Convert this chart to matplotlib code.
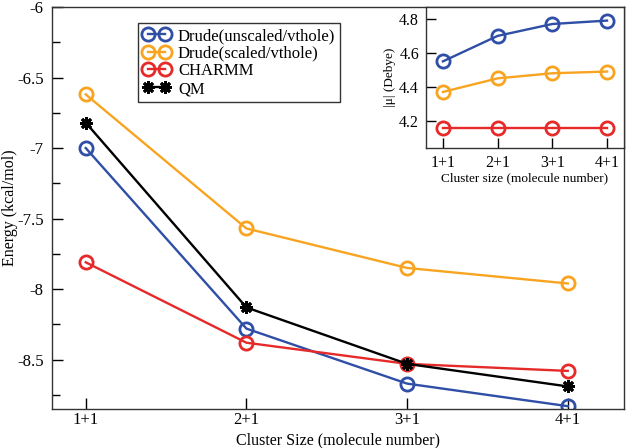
import matplotlib
matplotlib.use("Agg")
import matplotlib.pyplot as plt

plt.rcParams["font.family"] = ["Liberation Serif", "DejaVu Serif"]
plt.rcParams["mathtext.fontset"] = "stix"

# cluster sizes
clusters = ["1+1", "2+1", "3+1", "4+1"]
xpos = [1, 2, 3, 4]

# interaction energies (kcal/mol)
e_drude_unscaled = [-7.00, -8.28, -8.67, -8.83]
e_drude_scaled = [-6.62, -7.57, -7.85, -7.96]
e_charmm = [-7.81, -8.38, -8.53, -8.58]
e_qm = [-6.82, -8.13, -8.53, -8.69]

# dipole moments (Debye)
mu_drude_unscaled = [4.55, 4.70, 4.77, 4.79]
mu_drude_scaled = [4.37, 4.45, 4.48, 4.49]
mu_charmm = [4.16, 4.16, 4.16, 4.16]

c_blue = "#2f4ea6"
c_orange = "#f8a421"
c_red = "#e62a2a"

W, H = 626, 448
fig = plt.figure(figsize=(W / 100, H / 100), dpi=100)

ax_w, ax_h = 624 - 52, 409 - 7
ax = fig.add_axes([52 / W, 1 - 409 / H, ax_w / W, ax_h / H])
circ = dict(marker="o", markersize=9.5, markerfacecolor="none",
            markeredgewidth=2.0, linewidth=1.7)
ax.plot(xpos, e_drude_unscaled, color=c_blue, markeredgecolor=c_blue,
        label="Drude(unscaled/vthole)", **circ)
ax.plot(xpos, e_drude_scaled, color=c_orange, markeredgecolor=c_orange,
        label="Drude(scaled/vthole)", **circ)
ax.plot(xpos, e_charmm, color=c_red, markeredgecolor=c_red,
        label="CHARMM", **circ)
ax.plot(xpos, e_qm, color="black", marker=(8, 2, 0), markersize=9,
        markeredgewidth=2.0, linewidth=1.7, label="QM")

ax.set_xlim(0.79, 4.35)
ax.set_ylim(-8.85, -6.0)
ax.set_xticks(xpos)
ax.set_xticklabels(clusters)
ax.set_yticks([-6, -6.5, -7, -7.5, -8, -8.5])
ax.set_yticklabels(["-6", "-6.5", "-7", "-7.5", "-8", "-8.5"])
ax.set_yticks([-6.25, -6.75, -7.25, -7.75, -8.25, -8.75], minor=True)
ax.tick_params(axis="both", which="major", direction="in", length=8,
               width=1, labelsize=12, top=False, right=False, pad=6)
ax.tick_params(axis="x", which="major", pad=2.5)
ax.tick_params(axis="y", which="minor", direction="in", length=6, width=1)
ax.set_xlabel("Cluster Size (molecule number)", fontsize=11.5, va="bottom")
ax.xaxis.set_label_coords(0.5, (409 - 448.5) / ax_h)
ax.set_ylabel("Energy (kcal/mol)", fontsize=11.5, va="center")
ax.yaxis.set_label_coords((10 - 52) / ax_w, 0.5)
for sp in ax.spines.values():
    sp.set_linewidth(1.0)
    sp.set_color("#333333")

leg = ax.legend(loc="upper left", bbox_to_anchor=(138 / W, 1 - 23 / H),
                bbox_transform=fig.transFigure, borderaxespad=0,
                fancybox=False, framealpha=1, edgecolor="#333333",
                fontsize=12, handlelength=1.6, handletextpad=0.5,
                labelspacing=0.1, borderpad=0.3, numpoints=2)
leg.get_frame().set_linewidth(1.0)

# inset with dipole moments
ins = fig.add_axes([426 / W, 1 - 148 / H, (624 - 426) / W, (148 - 7) / H])
ins.plot(xpos, mu_drude_unscaled, color=c_blue, markeredgecolor=c_blue, **circ)
ins.plot(xpos, mu_drude_scaled, color=c_orange, markeredgecolor=c_orange, **circ)
ins.plot(xpos, mu_charmm, color=c_red, markeredgecolor=c_red, **circ)
ins.set_xlim(0.69, 4.31)
ins.set_ylim(4.04, 4.87)
ins.set_xticks(xpos)
ins.set_xticklabels(clusters)
ins.set_yticks([4.2, 4.4, 4.6, 4.8])
ins.tick_params(axis="both", direction="in", length=7, width=1,
                labelsize=11.5, top=False, right=False, pad=5)
ins.set_xlabel("Cluster size (molecule number)", fontsize=9.5, labelpad=1)
ins.set_ylabel("|μ| (Debye)", fontsize=9.5, labelpad=2)
for sp in ins.spines.values():
    sp.set_linewidth(1.0)
    sp.set_color("#333333")

fig.savefig("out.png", dpi=100)
